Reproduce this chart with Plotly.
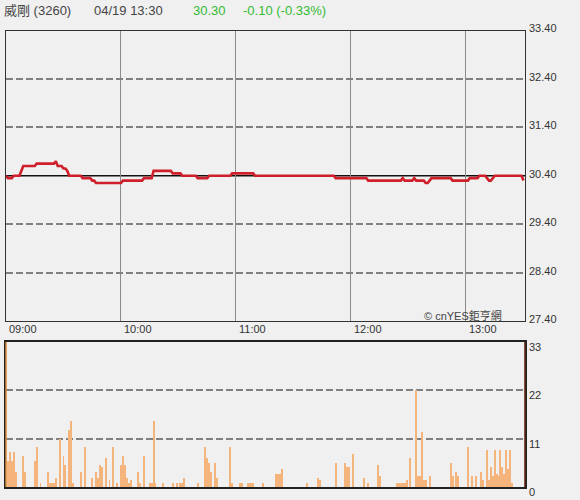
import plotly.graph_objects as go

# ---------------- data ----------------
stock_name = "威剛 (3260)"
timestamp = "04/19 13:30"
last_price = "30.30"
change_text = "-0.10 (-0.33%)"
prev_close = 30.40

time_labels = ["09:00", "10:00", "11:00", "12:00", "13:00"]
time_label_minutes = [0, 60, 120, 180, 240]

price_tick_labels = ["33.40", "32.40", "31.40", "30.40", "29.40", "28.40", "27.40"]
price_tick_values = [33.40, 32.40, 31.40, 30.40, 29.40, 28.40, 27.40]
vol_tick_labels = ["33", "22", "11", "0"]
vol_tick_values = [33, 22, 11, 0]

# minute-by-minute price, 09:00 .. 13:30
prices = [
    30.40, 30.35, 30.35, 30.35, 30.40, 30.40, 30.40, 30.40, 30.50, 30.60,
    30.60, 30.60, 30.60, 30.60, 30.60, 30.60, 30.65, 30.65, 30.65, 30.65,
    30.65, 30.65, 30.65, 30.65, 30.65, 30.65, 30.70, 30.60, 30.60, 30.60,
    30.55, 30.55, 30.50, 30.40, 30.40, 30.40, 30.40, 30.40, 30.40, 30.40,
    30.35, 30.35, 30.35, 30.35, 30.35, 30.30, 30.30, 30.25, 30.25, 30.25,
    30.25, 30.25, 30.25, 30.25, 30.25, 30.25, 30.25, 30.25, 30.25, 30.25,
    30.25, 30.30, 30.30, 30.30, 30.30, 30.30, 30.30, 30.30, 30.30, 30.30,
    30.30, 30.30, 30.35, 30.35, 30.35, 30.35, 30.35, 30.50, 30.50, 30.50,
    30.50, 30.50, 30.50, 30.50, 30.50, 30.50, 30.50, 30.45, 30.45, 30.45,
    30.45, 30.45, 30.40, 30.40, 30.40, 30.40, 30.40, 30.40, 30.40, 30.40,
    30.35, 30.35, 30.35, 30.35, 30.35, 30.35, 30.40, 30.40, 30.40, 30.40,
    30.40, 30.40, 30.40, 30.40, 30.40, 30.40, 30.40, 30.40, 30.45, 30.45,
    30.45, 30.45, 30.45, 30.45, 30.45, 30.45, 30.45, 30.45, 30.45, 30.45,
    30.40, 30.40, 30.40, 30.40, 30.40, 30.40, 30.40, 30.40, 30.40, 30.40,
    30.40, 30.40, 30.40, 30.40, 30.40, 30.40, 30.40, 30.40, 30.40, 30.40,
    30.40, 30.40, 30.40, 30.40, 30.40, 30.40, 30.40, 30.40, 30.40, 30.40,
    30.40, 30.40, 30.40, 30.40, 30.40, 30.40, 30.40, 30.40, 30.40, 30.40,
    30.40, 30.40, 30.35, 30.35, 30.35, 30.35, 30.35, 30.35, 30.35, 30.35,
    30.35, 30.35, 30.35, 30.35, 30.35, 30.35, 30.35, 30.35, 30.35, 30.30,
    30.30, 30.30, 30.30, 30.30, 30.30, 30.30, 30.30, 30.30, 30.30, 30.30,
    30.30, 30.30, 30.30, 30.30, 30.30, 30.30, 30.30, 30.35, 30.30, 30.30,
    30.30, 30.30, 30.30, 30.35, 30.30, 30.30, 30.30, 30.30, 30.30, 30.25,
    30.25, 30.30, 30.35, 30.35, 30.35, 30.35, 30.35, 30.35, 30.35, 30.35,
    30.35, 30.35, 30.35, 30.30, 30.30, 30.30, 30.30, 30.30, 30.30, 30.30,
    30.30, 30.30, 30.35, 30.35, 30.35, 30.35, 30.35, 30.40, 30.40, 30.40,
    30.40, 30.35, 30.30, 30.30, 30.35, 30.40, 30.40, 30.40, 30.40, 30.40,
    30.40, 30.40, 30.40, 30.40, 30.40, 30.40, 30.40, 30.40, 30.40, 30.40,
    30.30,
]
price_minutes = list(range(len(prices)))

vol_minutes = [
    1, 2, 3, 4, 5, 9, 10, 15, 16, 18, 22, 23, 24, 25, 26, 28, 30, 31, 33, 34,
    35, 39, 41, 45, 47, 48, 49, 50, 52, 54, 56, 58, 60, 61, 62, 63, 64, 65, 69, 70,
    72, 75, 76, 77, 78, 82, 87, 89, 91, 92, 93, 100, 104, 105, 106, 107, 109, 110, 117, 118,
    122, 123, 126, 127, 128, 129, 134, 141, 142, 143, 144, 157, 163, 164, 172, 177, 178, 179, 181, 187,
    189, 194, 195, 204, 205, 206, 207, 208, 209, 211, 214, 215, 216, 217, 218, 219, 221, 232, 233, 235,
    236, 241, 243, 245, 248, 249, 251, 252, 253, 254, 255, 256, 257, 258, 259, 260, 261, 262, 263, 264,
]
vol_values = [
    6, 8, 6, 8, 3.5, 7, 3.5, 6, 9, 1, 3.5, 1, 1, 1, 2, 11, 7, 5, 13, 15,
    1, 3.5, 9, 2, 3.5, 2, 5, 4.5, 6.5, 1.5, 9, 1, 5, 7, 5, 2, 1, 1.5, 3.5, 1,
    7, 1, 1, 15, 1, 1, 1, 1, 1, 1, 2, 1, 9, 6.5, 5.5, 3.5, 5.5, 2, 9, 1,
    1, 1, 1, 1, 1, 1, 1, 3, 3, 3, 4, 1, 2, 1.5, 5.5, 5.5, 4.5, 4.5, 7.5, 2,
    1, 5, 2.5, 1, 1, 1, 1, 1, 1.5, 6.5, 22, 2.5, 2.5, 12.5, 1.5, 1.5, 2.5, 5.5, 2.5, 3.5,
    2.5, 9, 2.5, 2.5, 3.5, 1.5, 8.5, 1.5, 4.5, 2.5, 8.5, 3, 2.5, 8.5, 4.5, 3, 8.5, 4, 8.5, 1,
]

# ---------------- styling ----------------
W, H = 580, 500
BG = "#f0f0f0"
FONT = "Liberation Sans, Arial, Noto Sans CJK TC, sans-serif"
LEFT, RIGHT = 6, 525
P_TOP, P_BOT = 30.5, 321
V_TOP, V_BOT = 342, 487
X_RANGE = [0, 270.8]

def px_x(v):
    return v / W

def px_y(v):
    return 1 - v / H

fig = go.Figure()

fig.add_trace(go.Bar(
    x=vol_minutes, y=vol_values, width=0.5,
    marker=dict(color="#f5b47c", line=dict(width=0)),
    xaxis="x2", yaxis="y2", hoverinfo="skip",
))

fig.add_trace(go.Scatter(
    x=price_minutes, y=prices, mode="lines",
    line=dict(color="#cf1f2b", width=2.6),
    xaxis="x", yaxis="y", hoverinfo="skip",
))

grid_dash = "7px,3px"
fig.update_layout(
    width=W, height=H,
    margin=dict(l=0, r=0, t=0, b=0),
    paper_bgcolor=BG, plot_bgcolor=BG,
    showlegend=False,
    bargap=0,
    font=dict(family=FONT, size=11, color="#333"),
    xaxis=dict(
        domain=[px_x(LEFT), px_x(RIGHT)], range=X_RANGE, anchor="y",
        tickvals=[60, 120, 180, 240], showticklabels=False, ticks="",
        showgrid=True, gridcolor="#8a8a8a", gridwidth=1,
        zeroline=False, showline=True, mirror=True, linecolor="#333", linewidth=1,
    ),
    yaxis=dict(
        domain=[px_y(P_BOT), px_y(P_TOP)], range=[27.4, 33.4], anchor="x",
        tickvals=[28.4, 29.4, 31.4, 32.4], showticklabels=False, ticks="",
        showgrid=True, gridcolor="#808080", gridwidth=2, griddash=grid_dash,
        zeroline=False, showline=True, mirror=True, linecolor="#333", linewidth=1,
    ),
    xaxis2=dict(
        domain=[px_x(LEFT), px_x(RIGHT)], range=X_RANGE, anchor="y2",
        showticklabels=False, ticks="", showgrid=False,
        zeroline=False, showline=True, mirror=True, linecolor="#222", linewidth=1.5,
    ),
    yaxis2=dict(
        domain=[px_y(V_BOT), px_y(V_TOP)], range=[0, 33], anchor="x2",
        tickvals=[11, 22], showticklabels=False, ticks="",
        showgrid=True, gridcolor="#808080", gridwidth=2, griddash=grid_dash,
        zeroline=False, showline=True, mirror=True, linecolor="#222", linewidth=1.5,
    ),
)

# previous-close reference line
fig.add_shape(type="line", xref="x domain", yref="y", x0=0, x1=1,
              y0=prev_close, y1=prev_close, line=dict(color="#111", width=1.5),
              layer="below")
# coloured side borders of volume panel
fig.add_shape(type="line", xref="paper", yref="paper",
              x0=px_x(LEFT), x1=px_x(LEFT), y0=px_y(V_BOT), y1=px_y(V_TOP),
              line=dict(color="#d98a3a", width=1.5), layer="above")
fig.add_shape(type="line", xref="paper", yref="paper",
              x0=px_x(RIGHT), x1=px_x(RIGHT), y0=px_y(V_BOT), y1=px_y(V_TOP),
              line=dict(color="#5a200a", width=1.5), layer="above")

annos = []
# header
header = [
    (stock_name, 2, "#444"),
    (timestamp, 92, "#444"),
    (last_price, 191, "#33bb33"),
    (change_text, 241, "#33bb33"),
]
for txt, xp, col in header:
    annos.append(dict(text=txt, xref="paper", yref="paper", x=px_x(xp), y=px_y(10),
                      xanchor="left", yanchor="middle", showarrow=False,
                      font=dict(size=13, color=col, family=FONT)))
# time labels
for lab, m in zip(time_labels, time_label_minutes):
    annos.append(dict(text=lab, xref="x", yref="paper", x=m, y=px_y(329),
                      xanchor="left", yanchor="middle", xshift=1, showarrow=False,
                      font=dict(size=11, color="#333", family=FONT)))
# price labels
for lab, v in zip(price_tick_labels, price_tick_values):
    annos.append(dict(text=lab, xref="paper", yref="y", x=px_x(527), y=v,
                      xanchor="left", yanchor="middle", yshift=2, showarrow=False,
                      font=dict(size=11, color="#333", family=FONT)))
# volume labels
for lab, v in zip(vol_tick_labels, vol_tick_values):
    annos.append(dict(text=lab, xref="paper", yref="y2", x=px_x(527), y=v,
                      xanchor="left", yanchor="middle", yshift=-5, showarrow=False,
                      font=dict(size=11, color="#333", family=FONT)))
# watermark
annos.append(dict(text="© cnYES鉅亨網", xref="paper", yref="paper",
                  x=px_x(422), y=px_y(315), xanchor="left", yanchor="middle",
                  showarrow=False, font=dict(size=11, color="#444", family=FONT)))

fig.update_layout(annotations=annos)

fig.write_html(
    "out.html",
    config={"displayModeBar": False},
    post_script="document.body.style.margin='0';document.body.style.overflow='hidden';",
)
